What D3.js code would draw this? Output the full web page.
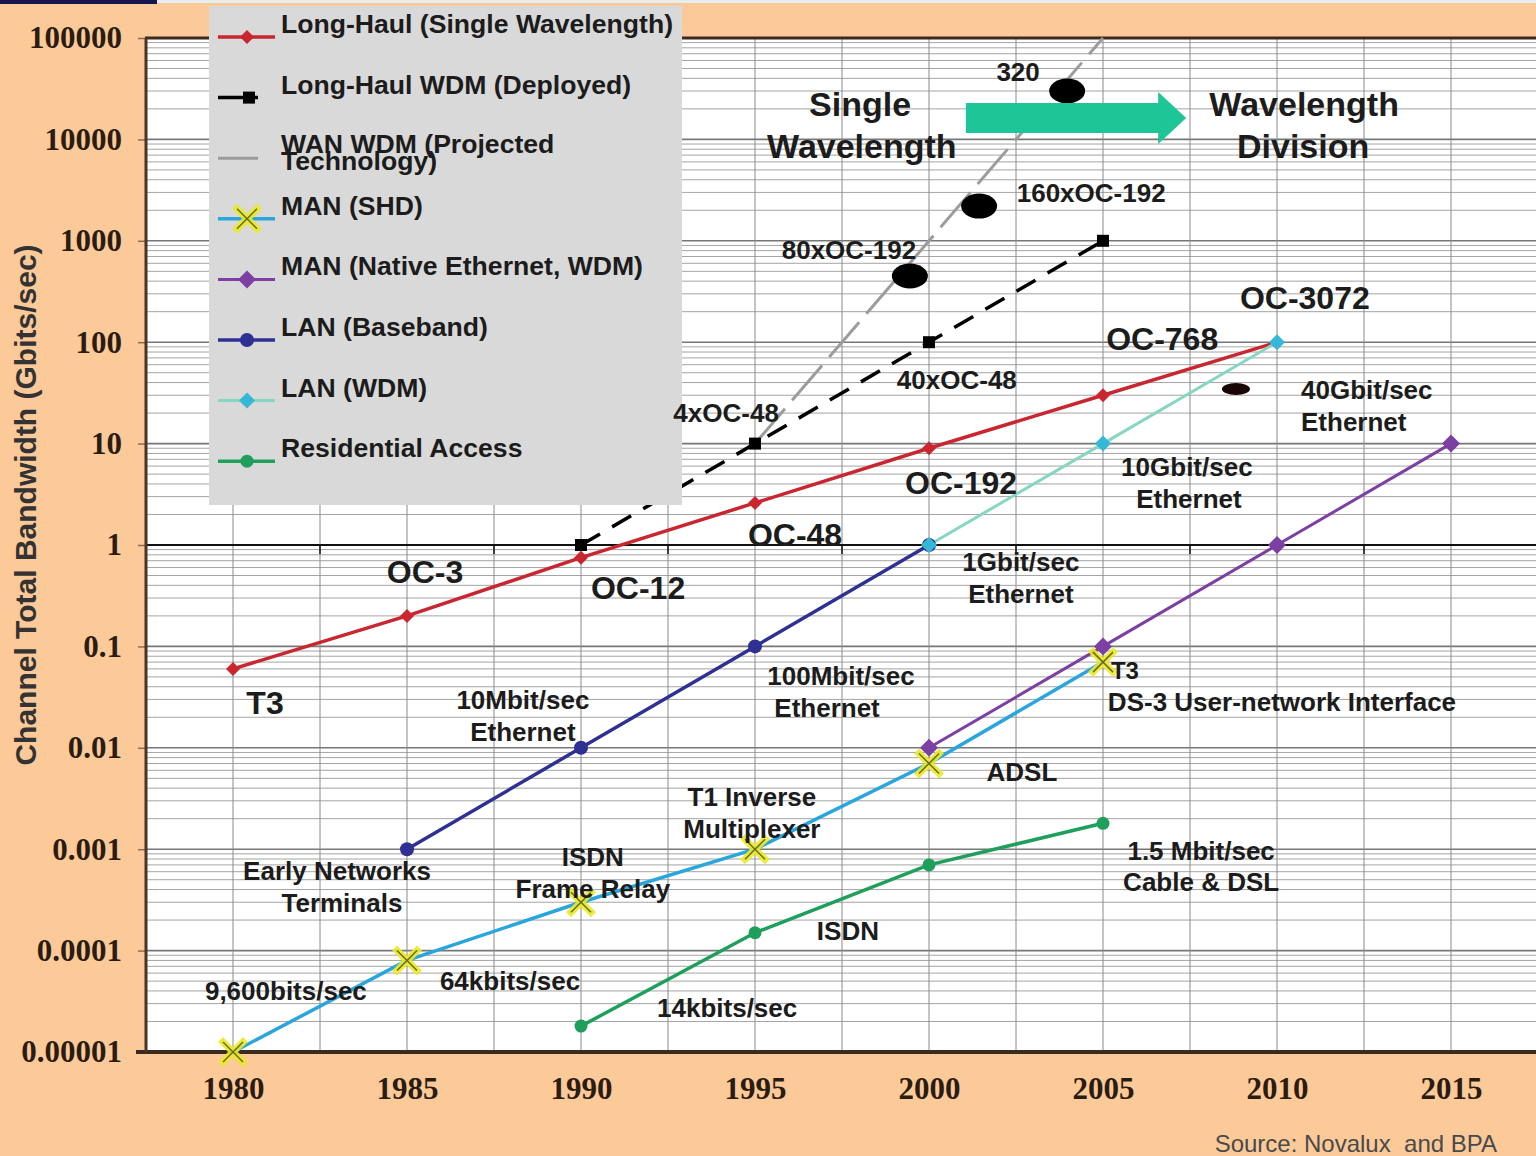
<!DOCTYPE html>
<html>
<head>
<meta charset="utf-8">
<script src="https://cdn.jsdelivr.net/npm/d3@7/dist/d3.min.js"></script>
<style>
body { margin: 0; background: #fcc998; }
svg { display: block; }
text { font-family: "Liberation Sans", Arial, sans-serif; }
</style>
</head>
<body>
<script>
////////////////////////////////////////////////////////////////////////////////
// Data (year, Gbit/sec)
var longHaulSingle = [[1980, 0.06], [1985, 0.2], [1990, 0.75], [1995, 2.6], [2000, 9], [2005, 30], [2010, 100]];
var longHaulWdm    = [[1990, 1], [1995, 10], [2000, 100], [2005, 1000]];
var wanWdm         = [[1995, 10], [2005, 100000]];
var manShd         = [[1980, 0.00001], [1985, 0.00008], [1990, 0.0003], [1995, 0.001], [2000, 0.007], [2005, 0.07]];
var manNative      = [[2000, 0.01], [2005, 0.1], [2010, 1], [2015, 10]];
var lanBaseband    = [[1985, 0.001], [1990, 0.01], [1995, 0.1], [2000, 1]];
var lanWdm         = [[2000, 1], [2005, 10], [2010, 100]];
var residential    = [[1990, 0.000018], [1995, 0.00015], [2000, 0.0007], [2005, 0.0018]];

var legendNames = [
    "Long-Haul (Single Wavelength)",
    "Long-Haul WDM (Deployed)",
    "WAN WDM (Projected|Technology)",
    "MAN (SHD)",
    "MAN (Native Ethernet, WDM)",
    "LAN (Baseband)",
    "LAN (WDM)",
    "Residential Access"
];

// projected WDM capacity blobs
var blobs = [[1999.45, 450], [2001.44, 2200], [2003.97, 30000]];
var smallBlob = [[2008.82, 34.5]];

var xTicks = [1980, 1985, 1990, 1995, 2000, 2005, 2010, 2015];
var yTicks = [1e5, 1e4, 1e3, 1e2, 10, 1, 0.1, 0.01, 0.001, 0.0001, 0.00001];
var yTickLabels = ["100000", "10000", "1000", "100", "10", "1", "0.1", "0.01", "0.001", "0.0001", "0.00001"];

// text, year, value, kind, anchor
var annotations = [
    ["320", 2002.56, 46200, "lbl"],
    ["Single", 1998.02, 22300, "big"],
    ["Wavelength", 1998.07, 8610, "big"],
    ["Wavelength", 2010.78, 22300, "big"],
    ["Division", 2010.75, 8610, "big"],
    ["160xOC-192", 2004.66, 2960, "lbl"],
    ["80xOC-192", 1997.70, 812, "lbl"],
    ["OC-3072", 2010.80, 273, "oc"],
    ["OC-768", 2006.70, 110, "oc"],
    ["40xOC-48", 2000.80, 42.4, "lbl"],
    ["40Gbit/sec", 2010.69, 33.8, "lbl", "start"],
    ["Ethernet", 2010.69, 16.3, "lbl", "start"],
    ["4xOC-48", 1994.17, 20.0, "lbl"],
    ["10Gbit/sec", 2007.41, 5.88, "lbl"],
    ["Ethernet", 2007.47, 2.84, "lbl"],
    ["OC-192", 2000.92, 4.18, "oc"],
    ["OC-48", 1996.15, 1.28, "oc"],
    ["1Gbit/sec", 2002.64, 0.68, "lbl"],
    ["Ethernet", 2002.64, 0.329, "lbl"],
    ["OC-3", 1985.52, 0.542, "oc"],
    ["OC-12", 1991.64, 0.385, "oc"],
    ["T3", 1980.92, 0.0277, "oc"],
    ["10Mbit/sec", 1988.33, 0.0296, "lbl"],
    ["Ethernet", 1988.33, 0.0143, "lbl"],
    ["100Mbit/sec", 1997.47, 0.0511, "lbl"],
    ["Ethernet", 1997.07, 0.0247, "lbl"],
    ["T3", 2005.63, 0.0585, "sm"],
    ["DS-3 User-network Interface", 2005.14, 0.0283, "lbl", "start"],
    ["ADSL", 2002.67, 0.00577, "lbl"],
    ["T1 Inverse", 1994.91, 0.00327, "lbl"],
    ["Multiplexer", 1994.91, 0.00158, "lbl"],
    ["Early Networks", 1982.99, 0.00061, "lbl"],
    ["Terminals", 1983.13, 0.000295, "lbl"],
    ["ISDN", 1990.34, 0.000838, "lbl"],
    ["Frame Relay", 1990.34, 0.000405, "lbl"],
    ["1.5 Mbit/sec", 2007.82, 0.00096, "lbl"],
    ["Cable & DSL", 2007.82, 0.000475, "lbl"],
    ["ISDN", 1997.67, 0.000156, "lbl"],
    ["9,600bits/sec", 1981.52, 0.00004, "lbl"],
    ["64kbits/sec", 1987.96, 0.0000501, "lbl"],
    ["14kbits/sec", 1994.20, 0.0000272, "lbl"]
];

// big arrow: tail year, tip year, value at centre
var arrowSpan = [2001.06, 2007.39, 16300];

////////////////////////////////////////////////////////////////////////////////
var W = 1536, H = 1156;

var series = [
    {data: longHaulSingle, color: "#c9262f", width: 3.5, marker: "diamond", mcolor: "#c9262f", ms: 7},
    {data: longHaulWdm, color: "#000", width: 3.5, dash: "22,14", marker: "square", mcolor: "#000", ms: 6},
    {data: wanWdm, color: "#9c9c9c", width: 3, dash: "46,11", marker: null},
    {data: manShd, color: "#2aa6dd", width: 3.5, marker: "xbox", mcolor: "#eaea2a", ms: 10},
    {data: manNative, color: "#7c3fa2", width: 3, marker: "diamond", mcolor: "#7c3fa2", ms: 9},
    {data: lanBaseband, color: "#2e3192", width: 3.5, marker: "circle", mcolor: "#2e3192", ms: 7},
    {data: lanWdm, color: "#86d6c2", width: 3, marker: "diamond", mcolor: "#35b7d6", ms: 8},
    {data: residential, color: "#1f9f5c", width: 3.5, marker: "circle", mcolor: "#1f9f5c", ms: 6.5}
];
series.forEach(function(s, i) { s.name = legendNames[i]; });

var annStyle = {
    big: {size: 34},
    oc:  {size: 32},
    lbl: {size: 26},
    sm:  {size: 24}
};

var x = d3.scaleLinear().domain([1977.5, 2017.5]).range([146, 1538]);
var y = d3.scaleLog().domain([1e-5, 1e5]).range([1052, 38]);

var svg = d3.select("body").append("svg")
    .attr("width", W)
    .attr("height", H);

// background + slide remnants on top
svg.append("rect").attr("width", W).attr("height", H).attr("fill", "#fcc998");
svg.append("rect").attr("width", W).attr("height", 3).attr("fill", "#e8eef0");
svg.append("rect").attr("width", 157).attr("height", 4).attr("fill", "#15154f");

// plot area
svg.append("rect")
    .attr("x", x.range()[0]).attr("y", y(1e5))
    .attr("width", W - x.range()[0]).attr("height", y(1e-5) - y(1e5))
    .attr("fill", "#fff");

var grid = svg.append("g");

// log minor grid
grid.selectAll(".hminor").data(y.ticks(100))
    .enter().append("line")
    .attr("x1", x.range()[0]).attr("x2", W)
    .attr("y1", function(d) { return y(d); })
    .attr("y2", function(d) { return y(d); })
    .attr("stroke", function(d) { return yTicks.indexOf(d) >= 0 ? "#777" : "#a4a4a4"; })
    .attr("stroke-width", function(d) { return yTicks.indexOf(d) >= 0 ? 1.6 : 1; });

grid.selectAll(".vgrid").data(d3.range(1980, 2016, 2.5))
    .enter().append("line")
    .attr("x1", function(d) { return x(d); })
    .attr("x2", function(d) { return x(d); })
    .attr("y1", y(1e5)).attr("y2", y(1e-5))
    .attr("stroke", "#8a8a8a")
    .attr("stroke-width", 1);

// heavy line at 1 Gbit/sec with small ticks
grid.append("line")
    .attr("x1", x.range()[0]).attr("x2", W)
    .attr("y1", y(1)).attr("y2", y(1))
    .attr("stroke", "#111").attr("stroke-width", 2.2);
grid.selectAll(".onetick").data(d3.range(1982.5, 2016, 5))
    .enter().append("line")
    .attr("x1", function(d) { return x(d); })
    .attr("x2", function(d) { return x(d); })
    .attr("y1", y(1)).attr("y2", y(1) + 9)
    .attr("stroke", "#111").attr("stroke-width", 1.5);

// y axis
var yAxis = svg.append("g")
    .attr("transform", "translate(" + x.range()[0] + ",0)")
    .call(d3.axisLeft(y).tickValues(yTicks)
        .tickFormat(function(d, i) { return yTickLabels[i]; })
        .tickSize(8).tickPadding(16));
yAxis.select(".domain").remove();
yAxis.selectAll(".tick line").attr("stroke", "#8c6e55").attr("stroke-width", 1.5);
yAxis.selectAll(".tick text")
    .style("font-family", "'Liberation Serif', 'Times New Roman', serif")
    .style("font-weight", "bold")
    .style("font-size", "31px")
    .attr("fill", "#2b1c12");

// x axis labels
var xAxis = svg.append("g")
    .attr("transform", "translate(0," + y(1e-5) + ")")
    .call(d3.axisBottom(x).tickValues(xTicks).tickFormat(d3.format("d"))
        .tickSize(0).tickPadding(25));
xAxis.select(".domain").remove();
xAxis.selectAll(".tick text")
    .style("font-family", "'Liberation Serif', 'Times New Roman', serif")
    .style("font-weight", "bold")
    .style("font-size", "31px")
    .attr("fill", "#2b1c12");

// frame
svg.append("line").attr("x1", x.range()[0] - 1).attr("x2", W)
    .attr("y1", y(1e5)).attr("y2", y(1e5))
    .attr("stroke", "#3a2a20").attr("stroke-width", 3);
svg.append("line").attr("x1", x.range()[0] - 10).attr("x2", W)
    .attr("y1", y(1e-5)).attr("y2", y(1e-5))
    .attr("stroke", "#3a2a20").attr("stroke-width", 4);
svg.append("line").attr("x1", x.range()[0]).attr("x2", x.range()[0])
    .attr("y1", y(1e5)).attr("y2", y(1e-5))
    .attr("stroke", "#4a3426").attr("stroke-width", 3);

////////////////////////////////////////////////////////////////////////////////
// Series
var line = d3.line()
    .x(function(d) { return x(d[0]); })
    .y(function(d) { return y(d[1]); });

function drawMarker(g, s, cx, cy) {
    var h = s.ms;
    if (s.marker == "diamond") {
        g.append("path")
            .attr("d", "M" + cx + "," + (cy - h) + "L" + (cx + h) + "," + cy +
                       "L" + cx + "," + (cy + h) + "L" + (cx - h) + "," + cy + "Z")
            .attr("fill", s.mcolor);
    } else if (s.marker == "square") {
        g.append("rect")
            .attr("x", cx - h).attr("y", cy - h)
            .attr("width", 2 * h).attr("height", 2 * h)
            .attr("fill", s.mcolor);
    } else if (s.marker == "circle") {
        g.append("circle").attr("cx", cx).attr("cy", cy).attr("r", h)
            .attr("fill", s.mcolor);
    } else if (s.marker == "xbox") {
        var p = "M" + (cx - h) + "," + (cy - h) + "L" + (cx + h) + "," + (cy + h) +
                "M" + (cx + h) + "," + (cy - h) + "L" + (cx - h) + "," + (cy + h);
        g.append("path").attr("d", p)
            .attr("stroke", s.mcolor).attr("stroke-width", 7)
            .attr("stroke-linecap", "square").attr("opacity", 0.9);
        g.append("path").attr("d", p)
            .attr("stroke", "#6d6a1e").attr("stroke-width", 1.5);
    }
}

var plot = svg.append("g");

// draw lines first, wan wdm behind the rest
[2, 0, 1, 3, 4, 5, 6, 7].forEach(function(i) {
    var s = series[i];
    plot.append("path")
        .datum(s.data)
        .attr("d", line)
        .attr("fill", "none")
        .attr("stroke", s.color)
        .attr("stroke-width", s.width)
        .attr("stroke-dasharray", s.dash || null);
});

series.forEach(function(s) {
    if (!s.marker) return;
    var g = plot.append("g");
    s.data.forEach(function(d) {
        drawMarker(g, s, x(d[0]), y(d[1]));
    });
});

// black blobs on the projected line
plot.selectAll(".blob").data(blobs)
    .enter().append("ellipse")
    .attr("cx", function(d) { return x(d[0]); })
    .attr("cy", function(d) { return y(d[1]); })
    .attr("rx", 18).attr("ry", 12.5)
    .attr("fill", "#000");
plot.selectAll(".sblob").data(smallBlob)
    .enter().append("ellipse")
    .attr("cx", function(d) { return x(d[0]); })
    .attr("cy", function(d) { return y(d[1]); })
    .attr("rx", 14).attr("ry", 6)
    .attr("fill", "#1a0505");

// arrow
var ax0 = x(arrowSpan[0]), ax1 = x(arrowSpan[1]), ay = y(arrowSpan[2]);
var headL = 28, shaftH = 15, headH = 26;
plot.append("path")
    .attr("d", "M" + ax0 + "," + (ay - shaftH) +
               "L" + (ax1 - headL) + "," + (ay - shaftH) +
               "L" + (ax1 - headL) + "," + (ay - headH) +
               "L" + ax1 + "," + ay +
               "L" + (ax1 - headL) + "," + (ay + headH) +
               "L" + (ax1 - headL) + "," + (ay + shaftH) +
               "L" + ax0 + "," + (ay + shaftH) + "Z")
    .attr("fill", "#1ec597");

////////////////////////////////////////////////////////////////////////////////
// Legend (above the lines, below the labels)
var legend = svg.append("g");
legend.append("rect")
    .attr("x", 209).attr("y", 6)
    .attr("width", 473).attr("height", 499)
    .attr("fill", "#d9d9d9");

series.forEach(function(s, i) {
    var ly = 37 + i * 60.6;
    var g = legend.append("g");
    var x0 = 218, x1 = (s.marker == "square" || !s.marker) ? 258 : 275;
    g.append("line")
        .attr("x1", x0).attr("x2", x1)
        .attr("y1", ly).attr("y2", ly)
        .attr("stroke", s.color)
        .attr("stroke-width", s.width);
    if (s.marker) {
        var mx = s.marker == "square" ? 249 : 247;
        drawMarker(g, s, mx, ly);
    }
    var parts = s.name.split("|");
    var t = g.append("text")
        .attr("x", 281)
        .style("font-size", "26.6px")
        .style("font-weight", "bold")
        .attr("fill", "#1c1c1c");
    if (parts.length == 1) {
        t.attr("y", ly - 4).text(parts[0]);
    } else {
        t.append("tspan").attr("x", 281).attr("y", ly - 5).text(parts[0]);
        t.append("tspan").attr("x", 281).attr("y", ly + 12).text(parts[1]);
    }
});

// annotations
svg.append("g").selectAll(".ann").data(annotations)
    .enter().append("text")
    .attr("x", function(d) { return x(d[1]); })
    .attr("y", function(d) { return y(d[2]); })
    .attr("dy", "0.36em")
    .attr("text-anchor", function(d) { return d[4] || "middle"; })
    .style("font-size", function(d) { return annStyle[d[3]].size + "px"; })
    .style("font-weight", "bold")
    .attr("fill", "#1c1c1c")
    .text(function(d) { return d[0]; });

// axis title
svg.append("text")
    .attr("transform", "translate(36,505) rotate(-90)")
    .attr("text-anchor", "middle")
    .style("font-size", "30px")
    .style("font-weight", "bold")
    .attr("fill", "#333")
    .text("Channel Total Bandwidth (Gbits/sec)");

// source
svg.append("text")
    .attr("x", 1497).attr("y", 1152)
    .attr("text-anchor", "end")
    .style("font-size", "24px")
    .style("white-space", "pre")
    .attr("fill", "#4a4a4a")
    .text("Source: Novalux  and BPA");
</script>
</body>
</html>
